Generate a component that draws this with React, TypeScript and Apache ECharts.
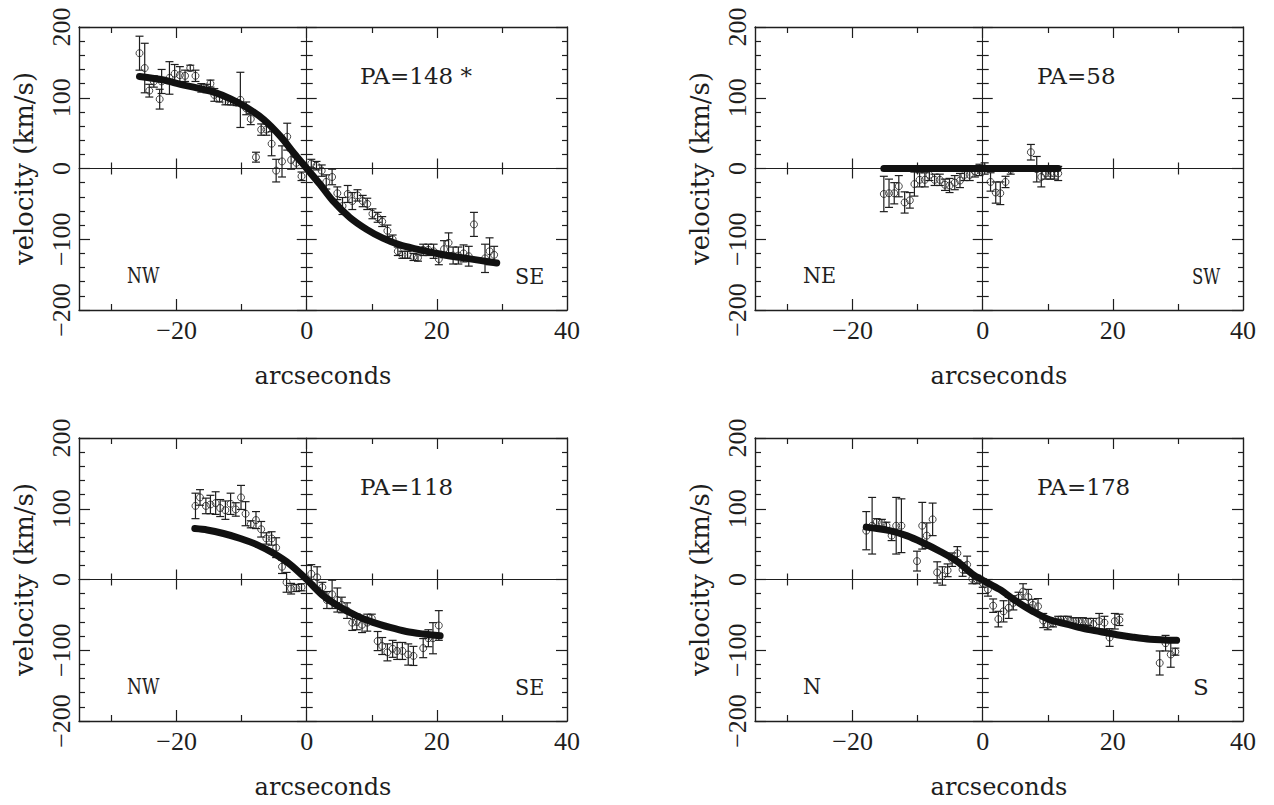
import React, { useEffect, useRef } from "react";
import * as echarts from "echarts";

// ---------- DATA ----------
// Panel 1: PA=148 *
const P1_X = [-25.7,-24.9,-24.2,-23.5,-22.6,-22.3,-21.1,-20.3,-19.5,-18.7,-17.9,-17.1,-16.2,-15.4,-14.8,-14.2,-13.4,-12.5,-11.7,-10.8,-10.2,-9.3,-8.6,-7.8,-7.0,-6.2,-5.4,-4.7,-3.8,-3.0,-2.4,-1.6,-0.8,0.7,1.5,2.3,3.0,3.9,4.7,5.5,6.3,7.0,7.8,8.6,9.3,10.1,10.9,11.6,12.4,13.2,14.0,14.7,15.5,16.4,17.1,17.9,18.7,19.5,20.3,21.1,21.8,22.5,23.3,24.1,24.9,25.7,27.4,28.1,28.8];
const P1_V = [163,142,110,123,98,123,128,134,132,131,142,131,114,113,120,104,99,95,94,93,97,85,70,16,55,55,35,-3,10,45,12,8,-11,7,4,-3,-19,-12,-35,-53,-36,-46,-38,-46,-50,-64,-69,-75,-88,-100,-117,-122,-122,-125,-126,-115,-115,-117,-128,-114,-105,-123,-123,-120,-124,-79,-127,-117,-122];
const P1_E = [24,35,9,8,14,17,23,13,12,8,4,8,6,6,5,9,5,5,4,4,39,9,8,7,8,8,17,16,22,19,13,8,6,6,6,8,10,11,9,12,12,12,8,8,8,7,7,7,8,6,6,5,5,5,5,8,8,10,8,12,14,12,12,12,14,17,20,19,12];
const P1_CX = [-25.7,-22,-19.4,-16.9,-14.3,-11.7,-9.2,-6.6,-4,-2,0,2,4,6.6,9.2,11.7,14.3,16.9,19.4,22,24.6,29.2];
const P1_CV = [130,125,119,114,108,98.5,86,69,45,22,0,-22,-45.5,-69,-86,-98.5,-108,-114,-119,-123.7,-127,-133.6];

// Panel 2: PA=58
const P2_X = [-15.2,-14.4,-13.6,-12.9,-12.0,-11.2,-10.5,-9.7,-8.9,-8.2,-7.4,-6.6,-5.8,-5.1,-4.3,-3.5,-2.8,-2.0,-1.2,-0.5,0.3,1.2,2.0,2.7,3.5,4.3,7.4,8.3,9.0,9.7,10.4,11.0,11.6];
const P2_V = [-36,-35,-35,-25,-48,-45,-22,-16,-16,-9,-16,-16,-23,-24,-20,-17,-9,-9,-4,-2,0,-19,-34,-35,-19,-2,23,-1,-12,-7,-7,-7,-7];
const P2_E = [25,20,15,15,15,11,17,10,10,8,8,8,8,10,10,10,8,8,8,8,8,13,15,16,8,6,11,18,14,8,8,8,10];
const P2_CX = [-15.2,0,11.6];
const P2_CV = [0,0,0];

// Panel 3: PA=118
const P3_X = [-17.1,-16.4,-15.5,-14.8,-14.0,-13.3,-12.5,-11.7,-10.9,-10.1,-9.4,-8.6,-7.8,-7.0,-6.2,-5.4,-4.7,-3.8,-3.1,-2.4,-1.6,-0.8,0.7,1.6,2.4,3.1,3.9,4.7,5.4,6.2,7.0,7.7,8.5,9.3,10.0,10.9,11.6,12.4,13.2,13.9,14.7,15.6,16.4,17.9,18.7,19.4,20.3];
const P3_V = [104,116,104,106,108,101,98,107,99,116,93,78,84,71,58,58,45,18,-4,-13,-12,-11,8,3,-11,-29,-21,-29,-36,-44,-61,-60,-64,-61,-55,-87,-94,-103,-98,-101,-101,-106,-108,-97,-83,-83,-65];
const P3_E = [18,11,11,13,16,12,13,15,9.5,17,17,5,12,11,8,9.5,14,9.5,14,7.5,5,5,13,15,7,12,20,17,11,11,11,11,11,12,6,13.5,12,12,12,12,12,15,13.5,13.5,12,22,21];
const P3_CX = [-17.2,-15.3,-12.8,-10.2,-7.6,-5.1,-2.5,0,2.5,5.1,7.6,10.2,12.8,15.3,17.9,20.5];
const P3_CV = [72,70,65,58,49,37,21,0,-22.7,-39,-51,-60.6,-67.8,-73.5,-77,-79.6];

// Panel 4: PA=178
const P4_X = [-17.9,-17.0,-16.3,-15.5,-14.8,-14.0,-13.3,-12.5,-10.1,-9.3,-8.6,-7.7,-7.0,-6.2,-5.4,-4.7,-3.9,-3.1,-2.4,-1.6,-0.9,0.0,0.8,1.6,2.4,3.2,4.0,4.7,5.5,6.2,7.0,7.7,8.5,9.3,10.0,10.8,11.6,12.4,13.1,13.9,14.7,15.4,16.2,17.0,17.9,18.7,19.5,20.3,21.0,27.2,28.1,28.9,29.6];
const P4_V = [69,76,81,80,76,62,76,76,26,76,62,85,10,5,13,28,37,14,21,1,0,-5,-14,-37,-56,-45,-40,-33,-26,-17,-25,-36,-38,-58,-64,-62,-57,-57,-57,-59,-59,-59,-60,-63,-59,-61,-82,-59,-57,-118,-90,-106,-102];
const P4_E = [27,40,5,5,5,7,40,38,14,33,18,23,15,13,9,9.5,9.5,9.5,12,7,6,6,9.5,9.5,11,15,15,10,8,11,11,8,11,10,7,5,5,5,5,5,5,5,5,8,11,9,12.5,11,8,17,11,18,5];
const P4_CX = [-17.9,-14.3,-11.7,-9.2,-6.6,-4.0,-1.5,0,2.6,5.2,7.7,10.3,12.9,15.4,18,20.6,23.1,25.7,29.8];
const P4_CV = [74,69,62,52,40,26,7,-1,-14,-31,-45,-57,-63,-69,-73.5,-78,-81.5,-84.3,-86];

const PA_LABELS = ["PA=148 *", "PA=58", "PA=118", "PA=178"];
const LEFT_DIRS = ["NW", "NE", "NW", "N"];
const RIGHT_DIRS = ["SE", "SW", "SE", "S"];

const X_LABEL_VALUES = [-20, 0, 20, 40];
const X_MAJOR_TICKS = [-20, 0, 20];
const X_MINOR_TICKS = [-30, -10, 10, 30];
const ZERO_MAJOR_TICKS = [-20, 20];

const X_NAME = "arcseconds";
const Y_NAME = "velocity (km/s)";

// ---------- LAYOUT / STYLE ----------
const PANELS = [
  { x: P1_X, v: P1_V, e: P1_E, cx: P1_CX, cv: P1_CV },
  { x: P2_X, v: P2_V, e: P2_E, cx: P2_CX, cv: P2_CV },
  { x: P3_X, v: P3_V, e: P3_E, cx: P3_CX, cv: P3_CV },
  { x: P4_X, v: P4_V, e: P4_E, cx: P4_CX, cv: P4_CV },
];
const GRID_LEFT = [79, 755, 79, 755];
const GRID_TOP = [27, 27, 438, 438];
const GRID_W = 488;
const GRID_H = 283;

const PA_POS = [[360, 76], [1037, 76], [360, 487], [1037, 487]];
const LDIR_POS = [[127, 275], [803, 275], [127, 686], [803, 686]];
const RDIR_POS = [[515, 276], [1192, 276], [515, 687], [1193, 687]];
const LDIR_SCALE = [0.74, 0.9, 0.74, 0.9];
const RDIR_SCALE = [0.9, 0.72, 0.9, 1.0];

const INK = "#1e1e1e";
const TICK_FONT = "Liberation Serif";
const WORD_FONT = "DejaVu Serif";

const fmt = (v: number) => (v < 0 ? "\u2212" + Math.abs(v) : String(v));

function mkX(o: any) {
  return {
    type: "value",
    gridIndex: o.grid,
    min: -35,
    max: 40,
    position: o.position,
    splitLine: { show: false },
    axisLine: {
      show: !!o.showLine,
      onZero: !!o.onZero,
      onZeroAxisIndex: o.onZero ? o.onZeroAxisIndex : undefined,
      lineStyle: { color: INK, width: o.lineWidth || 1.3 },
    },
    axisTick: {
      show: true,
      inside: o.inside,
      length: o.len,
      customValues: o.ticks,
      lineStyle: { color: INK, width: 1.2 },
    },
    axisLabel: o.labels
      ? {
          show: true,
          customValues: X_LABEL_VALUES,
          formatter: fmt,
          fontFamily: TICK_FONT,
          fontSize: 26,
          color: INK,
          margin: 7,
        }
      : { show: false },
    name: o.labels ? X_NAME : "",
    nameLocation: "middle",
    nameGap: 54,
    nameTextStyle: { fontFamily: WORD_FONT, fontSize: 24, color: INK },
  };
}

function mkY(o: any) {
  return {
    type: "value",
    gridIndex: o.grid,
    min: -200,
    max: 200,
    interval: 100,
    position: o.position,
    splitLine: { show: false },
    axisLine: {
      show: !!o.showLine,
      onZero: !!o.onZero,
      onZeroAxisIndex: o.onZero ? o.onZeroAxisIndex : undefined,
      lineStyle: { color: INK, width: o.lineWidth || 1.3 },
    },
    axisTick: {
      show: true,
      inside: o.inside,
      length: o.len,
      lineStyle: { color: INK, width: 1.2 },
    },
    minorTick: {
      show: true,
      splitNumber: 5,
      length: o.minorLen,
      lineStyle: { color: INK, width: 1.2 },
    },
    axisLabel: o.labels
      ? {
          show: true,
          rotate: 90,
          formatter: fmt,
          fontFamily: TICK_FONT,
          fontSize: 26,
          color: INK,
          margin: 5,
        }
      : { show: false },
    name: o.labels ? Y_NAME : "",
    nameLocation: "middle",
    nameRotate: 90,
    nameGap: 42,
    nameTextStyle: { fontFamily: WORD_FONT, fontSize: 26, color: INK },
  };
}

function buildOption() {
  const grid: any[] = [];
  const xAxis: any[] = [];
  const yAxis: any[] = [];
  const series: any[] = [];
  const graphic: any[] = [];

  PANELS.forEach((p, g) => {
    grid.push({ left: GRID_LEFT[g], top: GRID_TOP[g], width: GRID_W, height: GRID_H });
    const xb = g * 8;
    const yb = g * 4;
    // frame x axes
    xAxis.push(mkX({ grid: g, position: "bottom", showLine: true, inside: true, len: 11, ticks: X_MAJOR_TICKS, labels: true, lineWidth: 1.4 }));
    xAxis.push(mkX({ grid: g, position: "bottom", inside: true, len: 6, ticks: X_MINOR_TICKS }));
    xAxis.push(mkX({ grid: g, position: "top", showLine: true, inside: true, len: 11, ticks: X_MAJOR_TICKS, lineWidth: 1.4 }));
    xAxis.push(mkX({ grid: g, position: "top", inside: true, len: 6, ticks: X_MINOR_TICKS }));
    // zero-line x axes (ticks on both sides)
    xAxis.push(mkX({ grid: g, position: "bottom", showLine: true, onZero: true, onZeroAxisIndex: yb, inside: true, len: 10, ticks: ZERO_MAJOR_TICKS, lineWidth: 1.1 }));
    xAxis.push(mkX({ grid: g, position: "bottom", onZero: true, onZeroAxisIndex: yb, inside: true, len: 6, ticks: X_MINOR_TICKS }));
    xAxis.push(mkX({ grid: g, position: "bottom", onZero: true, onZeroAxisIndex: yb, inside: false, len: 10, ticks: ZERO_MAJOR_TICKS }));
    xAxis.push(mkX({ grid: g, position: "bottom", onZero: true, onZeroAxisIndex: yb, inside: false, len: 6, ticks: X_MINOR_TICKS }));

    // y axes
    yAxis.push(mkY({ grid: g, position: "left", showLine: true, inside: true, len: 11, minorLen: 6, labels: true, lineWidth: 1.4 }));
    yAxis.push(mkY({ grid: g, position: "right", showLine: true, inside: true, len: 11, minorLen: 5, lineWidth: 1.4 }));
    yAxis.push(mkY({ grid: g, position: "left", showLine: true, onZero: true, onZeroAxisIndex: xb, inside: true, len: 10, minorLen: 6, lineWidth: 1.1 }));
    yAxis.push(mkY({ grid: g, position: "left", onZero: true, onZeroAxisIndex: xb, inside: false, len: 10, minorLen: 6 }));

    // error bars
    series.push({
      type: "custom",
      xAxisIndex: xb,
      yAxisIndex: yb,
      data: p.x.map((x, i) => [x, p.v[i] - p.e[i], p.v[i] + p.e[i]]),
      encode: { x: 0, y: [1, 2] },
      z: 2,
      renderItem: (_params: any, api: any) => {
        const x = api.value(0);
        const top = api.coord([x, api.value(2)]);
        const bot = api.coord([x, api.value(1)]);
        const cap = 4;
        const st = { stroke: INK, lineWidth: 1.2 };
        return {
          type: "group",
          children: [
            { type: "line", shape: { x1: top[0], y1: top[1], x2: bot[0], y2: bot[1] }, style: st },
            { type: "line", shape: { x1: top[0] - cap, y1: top[1], x2: top[0] + cap, y2: top[1] }, style: st },
            { type: "line", shape: { x1: bot[0] - cap, y1: bot[1], x2: bot[0] + cap, y2: bot[1] }, style: st },
          ],
        };
      },
    });
    // points
    series.push({
      type: "scatter",
      xAxisIndex: xb,
      yAxisIndex: yb,
      data: p.x.map((x, i) => [x, p.v[i]]),
      symbol: "circle",
      symbolSize: 7,
      itemStyle: { color: "rgba(255,255,255,0)", borderColor: INK, borderWidth: 1 },
      z: 3,
    });
    // model curve
    series.push({
      type: "line",
      xAxisIndex: xb,
      yAxisIndex: yb,
      data: p.cx.map((x, i) => [x, p.cv[i]]),
      smooth: 0.3,
      showSymbol: false,
      symbol: "none",
      lineStyle: { color: "#111", width: 7, cap: "round" },
      z: 5,
    });

    // annotations
    graphic.push({
      type: "text",
      x: PA_POS[g][0],
      y: PA_POS[g][1],
      style: { text: PA_LABELS[g], font: `23px '${WORD_FONT}'`, fill: INK, textAlign: "left", textVerticalAlign: "middle" },
    });
    graphic.push({
      type: "text",
      x: LDIR_POS[g][0],
      y: LDIR_POS[g][1],
      scaleX: LDIR_SCALE[g],
      style: { text: LEFT_DIRS[g], font: `23px '${WORD_FONT}'`, fill: INK, textAlign: "left", textVerticalAlign: "middle" },
    });
    graphic.push({
      type: "text",
      x: RDIR_POS[g][0],
      y: RDIR_POS[g][1],
      scaleX: RDIR_SCALE[g],
      style: { text: RIGHT_DIRS[g], font: `23px '${WORD_FONT}'`, fill: INK, textAlign: "left", textVerticalAlign: "middle" },
    });
  });

  return {
    animation: false,
    backgroundColor: "#ffffff",
    grid,
    xAxis,
    yAxis,
    series,
    graphic,
  };
}

export default function App() {
  const ref = useRef<HTMLDivElement>(null);
  useEffect(() => {
    if (!ref.current) return;
    const chart = echarts.init(ref.current, undefined, { renderer: "svg" });
    chart.setOption(buildOption() as any);
    return () => chart.dispose();
  }, []);
  return (
    <div
      ref={ref}
      style={{ position: "fixed", left: 0, top: 0, width: 1274, height: 805, background: "#fff" }}
    />
  );
}
